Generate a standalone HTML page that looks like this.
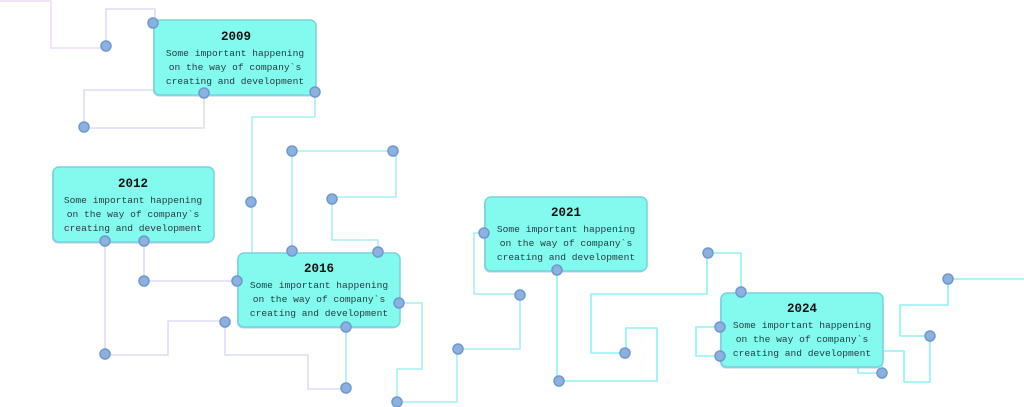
<!DOCTYPE html>
<html><head><meta charset="utf-8"><style>
html,body{margin:0;padding:0;background:#fff;width:1024px;height:407px;overflow:hidden}
svg{display:block}
.b{fill:#82faee;stroke:#79d3dc;stroke-width:1.5}
.sh{fill:#8aa8e6;opacity:0.6}
.t{font-family:"Liberation Mono",monospace;font-size:12.5px;font-weight:bold;fill:#111;text-anchor:middle}
.s{font-family:"Liberation Mono",monospace;font-size:9.6px;fill:#2a3a40;text-anchor:middle}
.l{fill:none;stroke:#dcdcf8;stroke-width:1.6;stroke-linejoin:round}
.c{fill:none;stroke:#a6eef5;stroke-width:1.6;stroke-linejoin:round}
.c2{fill:none;stroke:#8ef3f3;stroke-width:1.6;stroke-linejoin:round}
.d{fill:#8db1de;stroke:#6e99d0;stroke-width:1.5}
</style></head><body>
<svg width="1024" height="407" viewBox="0 0 1024 407">
<path class="l" d="M0 1H51V48H106" style="stroke:#eedcf8"/>
<path class="l" d="M106 46V9H155V24"/>
<path class="l" d="M156 90H84V127"/>
<path class="l" d="M204 93V128H84"/>
<path class="c" d="M315 92V117H252V253"/>
<path class="c" d="M292 251V151H396V197H332"/>
<path class="c" d="M332 199V240H378V252"/>
<path class="l" d="M105 241V355H168V321H225"/>
<path class="l" d="M144 241V281H238"/>
<path class="l" d="M225 322V355H308V389H346"/>
<path class="c" d="M346 327V389"/>
<path class="c" d="M399 303H422V369H397V402"/>
<path class="c" d="M397 402H457V349H520V295"/>
<path class="c" d="M484 233H474V294H520"/>
<path class="c2" d="M557 270V381H657V328H626V353"/>
<path class="c2" d="M625 353H591V294H707V253H741V292"/>
<path class="c2" d="M720 327H696V356H720"/>
<path class="c2" d="M858 367V373H882V351H904V382H930V336"/>
<path class="c2" d="M930 336H900V305H948V279H1024"/>
<rect class="sh" x="153" y="21" width="162" height="75.5" rx="6"/>
<rect class="sh" x="52" y="168" width="161" height="75.5" rx="6"/>
<rect class="sh" x="237" y="254" width="162" height="74.5" rx="6"/>
<rect class="sh" x="484" y="198" width="162" height="74.5" rx="6"/>
<rect class="sh" x="720" y="294" width="162" height="74.5" rx="6"/>
<rect class="b" x="154" y="20" width="162" height="75" rx="6"/>
<rect class="b" x="53" y="167" width="161" height="75" rx="6"/>
<rect class="b" x="238" y="253" width="162" height="74" rx="6"/>
<rect class="b" x="485" y="197" width="162" height="74" rx="6"/>
<rect class="b" x="721" y="293" width="162" height="74" rx="6"/>
<g>
<text class="t" x="236" y="40">2009</text>
<text class="s" x="235" y="56">Some important happening</text>
<text class="s" x="235" y="70">on the way of company`s</text>
<text class="s" x="235" y="84">creating and development</text>
<text class="t" x="133" y="187">2012</text>
<text class="s" x="133" y="203">Some important happening</text>
<text class="s" x="133" y="217">on the way of company`s</text>
<text class="s" x="133" y="231">creating and development</text>
<text class="t" x="319" y="272">2016</text>
<text class="s" x="319" y="288">Some important happening</text>
<text class="s" x="319" y="302">on the way of company`s</text>
<text class="s" x="319" y="316">creating and development</text>
<text class="t" x="566" y="216">2021</text>
<text class="s" x="566" y="232">Some important happening</text>
<text class="s" x="566" y="246">on the way of company`s</text>
<text class="s" x="566" y="260">creating and development</text>
<text class="t" x="802" y="312">2024</text>
<text class="s" x="802" y="328">Some important happening</text>
<text class="s" x="802" y="342">on the way of company`s</text>
<text class="s" x="802" y="356">creating and development</text>
</g>
<g class="d">
<circle cx="106" cy="46" r="5"/><circle cx="153" cy="23" r="5"/><circle cx="204" cy="93" r="5"/><circle cx="315" cy="92" r="5"/>
<circle cx="84" cy="127" r="5"/><circle cx="292" cy="151" r="5"/><circle cx="393" cy="151" r="5"/><circle cx="251" cy="202" r="5"/>
<circle cx="332" cy="199" r="5"/><circle cx="292" cy="251" r="5"/><circle cx="378" cy="252" r="5"/><circle cx="105" cy="241" r="5"/>
<circle cx="144" cy="241" r="5"/><circle cx="144" cy="281" r="5"/><circle cx="237" cy="281" r="5"/><circle cx="399" cy="303" r="5"/>
<circle cx="225" cy="322" r="5"/><circle cx="346" cy="327" r="5"/><circle cx="105" cy="354" r="5"/><circle cx="346" cy="388" r="5"/>
<circle cx="397" cy="402" r="5"/><circle cx="458" cy="349" r="5"/><circle cx="520" cy="295" r="5"/><circle cx="484" cy="233" r="5"/>
<circle cx="557" cy="270" r="5"/><circle cx="559" cy="381" r="5"/><circle cx="625" cy="353" r="5"/><circle cx="708" cy="253" r="5"/>
<circle cx="741" cy="292" r="5"/><circle cx="720" cy="327" r="5"/><circle cx="720" cy="356" r="5"/><circle cx="882" cy="373" r="5"/>
<circle cx="930" cy="336" r="5"/><circle cx="948" cy="279" r="5"/>
</g>
</svg>
</body></html>
